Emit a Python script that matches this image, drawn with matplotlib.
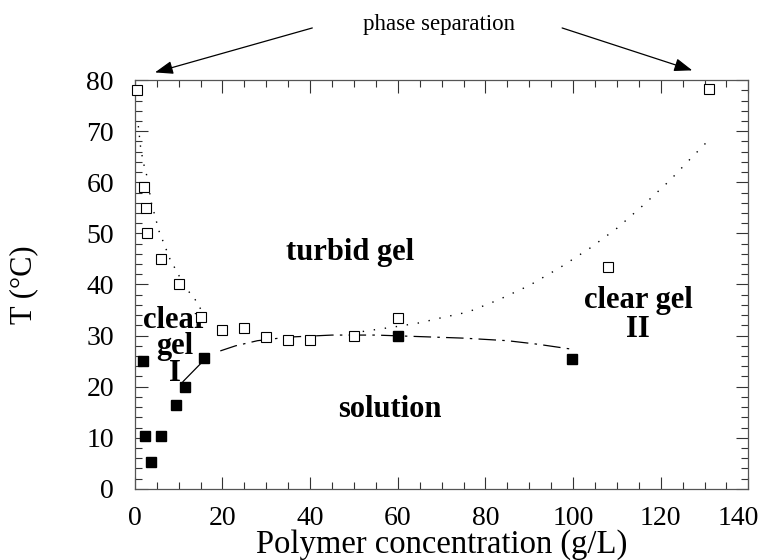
import matplotlib
matplotlib.use("Agg")
import matplotlib.pyplot as plt
from matplotlib.ticker import MultipleLocator
from matplotlib.transforms import ScaledTranslation

plt.rcParams['font.family'] = ['Liberation Serif', 'DejaVu Serif']

# Open squares: turbid-gel boundary (phase separation)
open_x = [0.4, 2.1, 2.5, 2.7, 6.0, 10.0, 15.0, 20.0, 25.0, 30.0, 35.0, 40.0, 50.0, 60.0, 108.0, 131.0]
open_y = [78.0, 59.0, 55.0, 50.0, 45.0, 40.0, 33.6, 31.0, 31.5, 29.8, 29.2, 29.2, 30.0, 33.5, 43.5, 78.3]

# Filled squares: sol-gel transition
fill_x = [1.8, 2.3, 3.6, 6.0, 9.3, 11.5, 15.8, 60.0, 99.8]
fill_y = [25.0, 10.3, 5.2, 10.3, 16.4, 20.0, 25.7, 30.0, 25.4]

# Dotted guide, left branch
left_x = [0.8, 1.3, 1.9, 2.7, 3.8, 4.6, 5.5, 6.6, 8.1, 9.6, 11.4, 13.8, 15.5]
left_y = [71.0, 67.0, 64.0, 61.4, 55.9, 53.4, 50.5, 48.1, 44.8, 42.5, 39.6, 37.0, 34.5]

# Dotted guide, right branch
right_x = [52, 56, 60, 65, 70, 76, 83, 90, 97, 104, 110, 116, 122, 127, 131]
right_y = [30.8, 31.3, 31.8, 32.5, 33.5, 34.6, 37.0, 39.8, 43.3, 47.2, 51.0, 55.5, 60.3, 64.8, 68.3]

# Dash-dot guide
dd_x = [19.5, 23, 28, 35, 45, 55, 65, 75, 85, 92, 100]
dd_y = [27.0, 28.0, 29.0, 29.7, 30.1, 30.1, 29.8, 29.5, 29.0, 28.3, 27.3]

# Solid segment
seg_x = [11.0, 15.8]
seg_y = [21.0, 25.2]

x_ticks = [0, 20, 40, 60, 80, 100, 120, 140]
y_ticks = [0, 10, 20, 30, 40, 50, 60, 70, 80]

fig = plt.figure(figsize=(7.66, 5.6), dpi=100)
ax = fig.add_axes([0.176, 0.127, 0.801, 0.730])

ax.plot(left_x, left_y, color='black', lw=1.0, linestyle=(0, (1, 6)))
ax.plot(right_x, right_y, color='black', lw=1.0, linestyle=(0, (1, 7)))
ax.plot(dd_x, dd_y, color='black', lw=0.9, linestyle=(0, (14, 5, 2, 5)))
ax.plot(seg_x, seg_y, color='black', lw=0.9)

ax.plot(open_x, open_y, linestyle='none', marker='s', markersize=7,
        markerfacecolor='white', markeredgecolor='black', markeredgewidth=0.8,
        clip_on=False, zorder=5)
ax.plot(fill_x, fill_y, linestyle='none', marker='s', markersize=7,
        markerfacecolor='black', markeredgecolor='black', clip_on=False, zorder=5)

ax.set_xlim(0, 140)
ax.set_ylim(0, 80)
ax.set_xticks(x_ticks)
ax.set_yticks(y_ticks)
ax.xaxis.set_minor_locator(MultipleLocator(5))
ax.yaxis.set_minor_locator(MultipleLocator(2))
ax.tick_params(which='both', direction='in', top=True, right=True, width=0.8, colors='#333333')
ax.tick_params(which='major', length=9, labelsize=20, labelcolor='black')
ax.tick_params(which='minor', length=5)
ax.tick_params(axis='x', which='major', pad=12)
ax.tick_params(axis='y', which='major', pad=15)
for s in ax.spines.values():
    s.set_linewidth(0.9)
    s.set_color('#555555')

ax.set_xlabel('Polymer concentration (g/L)', fontsize=23.5)
ax.set_ylabel('T (°C)', fontsize=22)
ax.xaxis.set_label_coords(0.5, -0.137)
ax.xaxis.label.set_va('center')
ax.yaxis.set_label_coords(-0.181, 0.5)
ax.yaxis.label.set_va('center')

bold = dict(fontsize=22, fontweight='bold', ha='center', va='center')
ax.text(49.1, 46.2, 'turbid gel', **bold)
ax.text(58.1, 15.5, 'solution', **bold)
ax.text(114.8, 34.1, 'clear gel\nII', linespacing=1.0, **bold)
ax.text(9.2, 27.8, 'clear\ngel\nI', linespacing=0.9, **bold)

ax.text(69.5, 90.8, 'phase separation', fontsize=16.5, ha='center', va='center',
        clip_on=False)
arrow = dict(arrowstyle='-|>,head_length=1.1,head_width=0.4', lw=0.9, color='black',
             shrinkA=0, shrinkB=0)
ax.annotate('', xy=(4.6, 81.5), xytext=(40.5, 90.2), arrowprops=arrow,
            annotation_clip=False)
ax.annotate('', xy=(127.2, 81.9), xytext=(97.5, 90.2), arrowprops=arrow,
            annotation_clip=False)

# keep the last x tick label inside the figure, as in the reference
last = ax.xaxis.get_major_ticks()[len(x_ticks) - 1].label1
last.set_transform(last.get_transform() + ScaledTranslation(-7 / 72, 0, fig.dpi_scale_trans))

fig.savefig('out.png', dpi=100)
